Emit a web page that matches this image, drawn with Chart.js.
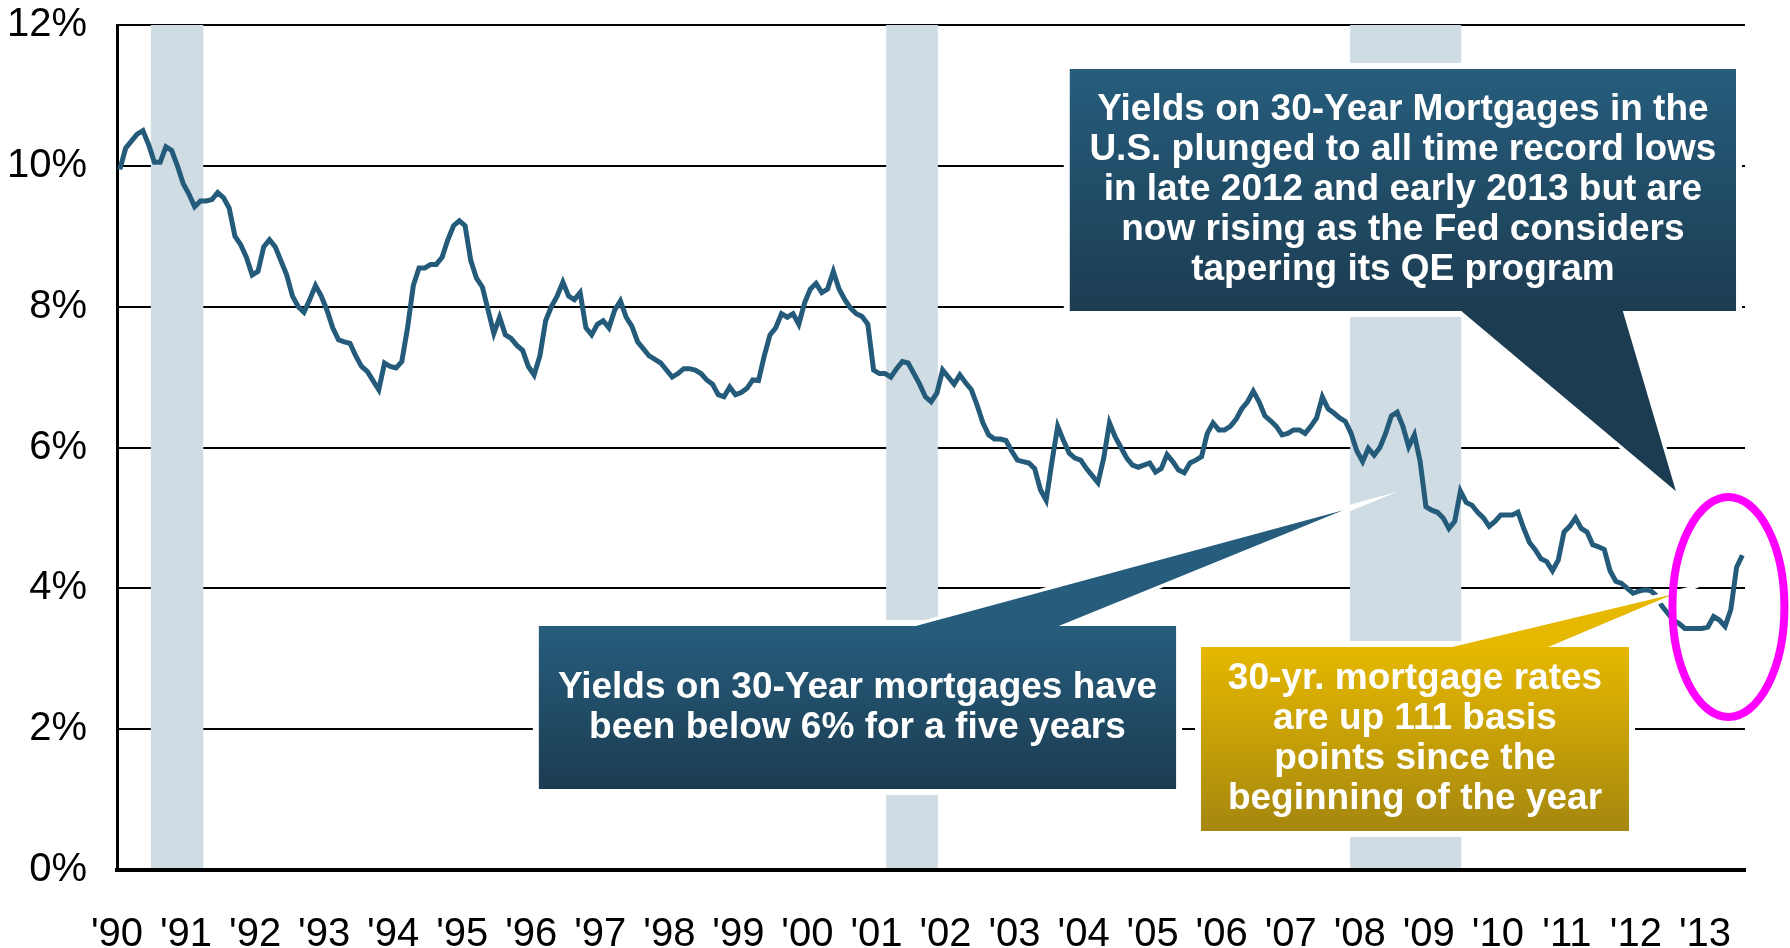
<!DOCTYPE html>
<html>
<head>
<meta charset="utf-8">
<title>Tasa hipotecaria a 30 años</title>
<script src="https://cdn.jsdelivr.net/npm/chart.js@4.4.1/dist/chart.umd.min.js"></script>
<style>
  html, body { margin: 0; padding: 0; background: #ffffff; }
  #grafico { display: block; }
</style>
</head>
<body>
<canvas id="grafico" width="1790" height="948"></canvas>
<script>
// ==================== DATOS ====================
const anioInicio = 1990;

// tasa media mensual (%), enero 1990 - julio 2013
const tasasMensuales = [
    9.95, 10.25, 10.35, 10.45, 10.5, 10.3, 10.05, 10.05, 10.27, 10.22, 10.0, 9.75,   // 1990
    9.6, 9.42, 9.5, 9.5, 9.52, 9.62, 9.55, 9.4, 9.0, 8.88, 8.7, 8.45,                // 1991
    8.5, 8.85, 8.95, 8.85, 8.65, 8.45, 8.15, 8.0, 7.92, 8.1, 8.3, 8.15,              // 1992
    7.95, 7.7, 7.53, 7.5, 7.48, 7.3, 7.15, 7.08, 6.95, 6.82, 7.2, 7.15,              // 1993
    7.13, 7.22, 7.7, 8.3, 8.55, 8.55, 8.6, 8.6, 8.7, 8.95, 9.15, 9.22,               // 1994
    9.15, 8.65, 8.4, 8.28, 7.95, 7.62, 7.85, 7.6, 7.55, 7.45, 7.38, 7.15,            // 1995
    7.03, 7.3, 7.8, 8.0, 8.15, 8.35, 8.15, 8.1, 8.2, 7.7, 7.6, 7.75,                 // 1996
    7.8, 7.7, 7.95, 8.08, 7.85, 7.72, 7.5, 7.4, 7.3, 7.25, 7.2, 7.1,                 // 1997
    7.0, 7.05, 7.12, 7.12, 7.1, 7.05, 6.96, 6.9, 6.75, 6.72, 6.86, 6.75,             // 1998
    6.78, 6.84, 6.96, 6.95, 7.3, 7.6, 7.7, 7.9, 7.85, 7.9, 7.75, 8.05,               // 1999
    8.25, 8.33, 8.2, 8.25, 8.5, 8.25, 8.1, 7.98, 7.9, 7.86, 7.75, 7.1,               // 2000
    7.05, 7.05, 7.0, 7.12, 7.22, 7.2, 7.05, 6.9, 6.72, 6.65, 6.77, 7.1,              // 2001
    7.0, 6.9, 7.03, 6.92, 6.82, 6.6, 6.35, 6.18, 6.12, 6.12, 6.1, 5.95,              // 2002
    5.82, 5.8, 5.78, 5.7, 5.4, 5.25, 5.8, 6.3, 6.1, 5.92, 5.85, 5.82,                // 2003
    5.7, 5.6, 5.5, 5.85, 6.35, 6.15, 6.0, 5.85, 5.75, 5.72, 5.75, 5.78,              // 2004
    5.65, 5.7, 5.9, 5.8, 5.68, 5.64, 5.78, 5.82, 5.87, 6.2, 6.35, 6.25,              // 2005
    6.25, 6.3, 6.4, 6.55, 6.65, 6.8, 6.65, 6.45, 6.38, 6.3, 6.18, 6.2,               // 2006
    6.25, 6.25, 6.2, 6.3, 6.42, 6.72, 6.55, 6.49, 6.42, 6.37, 6.2, 5.95,             // 2007
    5.8, 5.99, 5.89, 6.0, 6.2, 6.45, 6.5, 6.3, 6.01, 6.18, 5.8, 5.16,                // 2008
    5.11, 5.08, 5.0, 4.85, 4.95, 5.38, 5.22, 5.18, 5.08, 5.0, 4.88, 4.95,            // 2009
    5.04, 5.04, 5.04, 5.08, 4.85, 4.65, 4.55, 4.42, 4.38, 4.25, 4.4, 4.8,            // 2010
    4.88, 5.0, 4.85, 4.8, 4.62, 4.59, 4.55, 4.25, 4.1, 4.07, 4.0, 3.93,              // 2011
    3.96, 3.98, 3.97, 3.9, 3.75, 3.65, 3.55, 3.5, 3.43, 3.43, 3.43, 3.43,            // 2012
    3.45, 3.6, 3.55, 3.46, 3.7, 4.3, 4.47                                            // 2013
];

const etiquetasAnios = ["'90", "'91", "'92", "'93", "'94", "'95", "'96", "'97", "'98", "'99", "'00", "'01",
                        "'02", "'03", "'04", "'05", "'06", "'07", "'08", "'09", "'10", "'11", "'12", "'13"];

// recesiones (años decimales)
const recesionInicio = [1990.49, 2001.14, 2007.86];
const recesionFin = [1991.25, 2001.89, 2009.47];

const ejeYMax = 12;
const ejeXMax = 2013.58;

// ==================== ANOTACIONES ====================
// caja: [x izq, x der, y sup, y inf] en unidades del gráfico; forma = caja + cola
const llamadas = [
    {
        caja: [2003.80, 2013.45, 11.375, 7.94],
        forma: [[2003.80, 11.375], [2013.45, 11.375], [2013.45, 7.94], [2011.81, 7.94], [2012.58, 5.38], [2009.47, 7.94], [2003.80, 7.94]],
        colores: ['#265d7d', '#1c3c51'],
        lineas: ['Yields on 30-Year Mortgages in the', 'U.S. plunged to all time record lows',
                 'in late 2012 and early 2013 but are', 'now rising as the Fed considers', 'tapering its QE program']
    },
    {
        caja: [1996.11, 2005.34, 3.465, 1.15],
        forma: [[1996.11, 3.465], [2001.57, 3.465], [2007.76, 5.11], [2003.64, 3.465], [2005.34, 3.465], [2005.34, 1.15], [1996.11, 1.15]],
        colores: ['#265d7d', '#1c3c51'],
        lineas: ['Yields on 30-Year mortgages have', 'been below 6% for a five years']
    },
    {
        caja: [2005.70, 2011.90, 3.167, 0.554],
        forma: [[2005.70, 3.167], [2009.34, 3.167], [2012.55, 3.92], [2010.73, 3.167], [2011.90, 3.167], [2011.90, 0.554], [2005.70, 0.554]],
        colores: ['#e6b800', '#a5870f'],
        lineas: ['30-yr. mortgage rates', 'are up 111 basis', 'points since the', 'beginning of the year']
    }
];

const elipse = { x: 2013.34, y: 3.735, rx: 0.811, ry: 1.562 };

// ==================== PLUGINS ====================
const pluginRecesiones = {
    id: 'recesiones',
    beforeDatasetsDraw(chart) {
        const { ctx, scales: { x, y } } = chart;
        const arriba = y.getPixelForValue(ejeYMax);
        const abajo = y.getPixelForValue(0) - 2;
        ctx.save();
        ctx.fillStyle = '#d0dce3';
        for (let i = 0; i < recesionInicio.length; i++) {
            const x1 = x.getPixelForValue(recesionInicio[i]);
            const x2 = x.getPixelForValue(recesionFin[i]);
            ctx.fillRect(x1, arriba, x2 - x1, abajo - arriba);
        }
        ctx.restore();
    }
};

function trazarForma(ctx, pts) {
    ctx.beginPath();
    pts.forEach((p, i) => i === 0 ? ctx.moveTo(p[0], p[1]) : ctx.lineTo(p[0], p[1]));
    ctx.closePath();
}

const pluginLlamadas = {
    id: 'llamadas',
    afterDraw(chart) {
        const { ctx, scales: { x, y } } = chart;

        llamadas.forEach(c => {
            const izq = x.getPixelForValue(c.caja[0]);
            const der = x.getPixelForValue(c.caja[1]);
            const sup = y.getPixelForValue(c.caja[2]);
            const inf = y.getPixelForValue(c.caja[3]);
            const pts = c.forma.map(p => [x.getPixelForValue(p[0]), y.getPixelForValue(p[1])]);

            ctx.save();
            // borde blanco
            ctx.strokeStyle = '#ffffff';
            ctx.lineJoin = 'miter';
            ctx.lineWidth = 12;
            ctx.strokeRect(izq, sup, der - izq, inf - sup);
            ctx.lineWidth = 7;
            ctx.miterLimit = 30;
            trazarForma(ctx, pts);
            ctx.stroke();

            // relleno con degradado
            const grad = ctx.createLinearGradient(0, sup, 0, inf);
            grad.addColorStop(0, c.colores[0]);
            grad.addColorStop(1, c.colores[1]);
            ctx.fillStyle = grad;
            trazarForma(ctx, pts);
            ctx.fill();

            // texto
            ctx.fillStyle = '#ffffff';
            ctx.font = 'bold 37px "Liberation Sans", Arial, sans-serif';
            ctx.textAlign = 'center';
            ctx.textBaseline = 'middle';
            const cx = (izq + der) / 2;
            const cy = (sup + inf) / 2;
            const n = c.lineas.length;
            c.lineas.forEach((t, i) => ctx.fillText(t, cx, cy + (i - (n - 1) / 2) * 40));
            ctx.restore();
        });

        // elipse magenta
        const ex = x.getPixelForValue(elipse.x);
        const ey = y.getPixelForValue(elipse.y);
        const erx = x.getPixelForValue(elipse.x + elipse.rx) - ex;
        const ery = ey - y.getPixelForValue(elipse.y + elipse.ry);
        ctx.save();
        ctx.strokeStyle = '#ff00ff';
        ctx.lineWidth = 8;
        ctx.beginPath();
        ctx.ellipse(ex, ey, erx, ery, 0, 0, Math.PI * 2);
        ctx.stroke();
        ctx.restore();
    }
};

// ==================== GRÁFICO ====================
const puntos = tasasMensuales.map((v, i) => ({ x: anioInicio + (i + 0.5) / 12, y: v }));
const fuenteEjes = { family: '"Liberation Sans", Arial, sans-serif', size: 40, lineHeight: 1 };

new Chart(document.getElementById('grafico'), {
    type: 'line',
    data: {
        datasets: [{
            data: puntos,
            borderColor: '#245b7a',
            borderWidth: 5,
            pointRadius: 0,
            tension: 0,
            fill: false
        }]
    },
    options: {
        responsive: false,
        animation: false,
        devicePixelRatio: 1,
        layout: { padding: { left: 0, right: 45, top: 25, bottom: 0 } },
        plugins: { legend: { display: false }, tooltip: { enabled: false } },
        scales: {
            x: {
                type: 'linear',
                min: anioInicio,
                max: ejeXMax,
                afterBuildTicks: eje => { eje.ticks = etiquetasAnios.map((_, i) => ({ value: anioInicio + i })); },
                afterFit: eje => { eje.height = 78; eje.paddingLeft = 0; eje.paddingRight = 0; },
                grid: { display: false, drawTicks: false },
                border: { display: true, color: '#000000', width: 4 },
                ticks: {
                    padding: 45,
                    color: '#000000',
                    font: fuenteEjes,
                    maxRotation: 0,
                    autoSkip: false,
                    callback: (v, i) => etiquetasAnios[i]
                }
            },
            y: {
                min: 0,
                max: ejeYMax,
                afterFit: eje => { eje.width = 117; eje.paddingTop = 0; eje.paddingBottom = 0; },
                grid: { color: '#000000', lineWidth: 2, drawTicks: false },
                border: { display: true, color: '#000000', width: 3 },
                ticks: {
                    stepSize: 2,
                    padding: 30,
                    color: '#000000',
                    font: fuenteEjes,
                    callback: v => v + '%'
                }
            }
        }
    },
    plugins: [pluginRecesiones, pluginLlamadas]
});
</script>
</body>
</html>
